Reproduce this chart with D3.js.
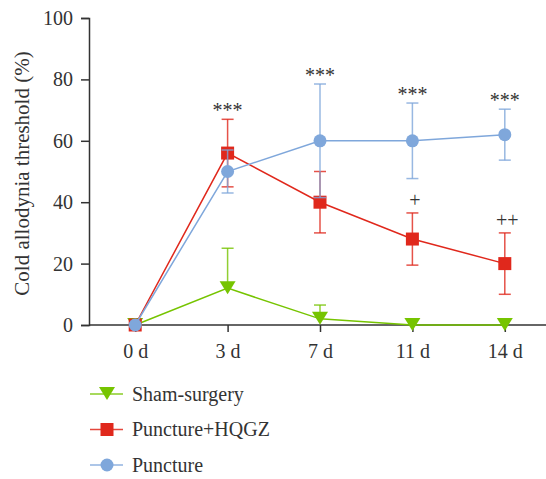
<!DOCTYPE html>
<html>
<head>
<meta charset="utf-8">
<script src="https://cdn.jsdelivr.net/npm/d3@7"></script>
<style>
  body { margin: 0; background: #fff; }
  text { font-family: "Liberation Serif", "DejaVu Serif", serif; fill: #333; }
</style>
</head>
<body>
<div id="chart"></div>
<script>
// Data
const days = ['0 d', '3 d', '7 d', '11 d', '14 d']
const shamMean = [0, 12, 2, 0, 0]
const shamErr = [0, 13, 4.5, 0, 0]
const hqgzMean = [0, 56, 40, 28, 20]
const hqgzErr = [0, 11, 10, 8.5, 10]
const punctureMean = [0, 50, 60, 60, 62]
const punctureErr = [0, 7, 18.5, 12.3, 8.3]
const yTicks = [0, 20, 40, 60, 80, 100]
const starLabels = ['', '***', '***', '***', '***']
const plusLabels = ['', '', '', '+', '++']

const width = 546,
  height = 479,
  fontSize = 20

const svg = d3.select('#chart')
  .append('svg')
  .attr('width', width)
  .attr('height', height)

const x = d3.scalePoint()
  .domain(days)
  .range([89, 551])
  .padding(0.5)

const y = d3.scaleLinear()
  .domain([0, 100])
  .range([325, 18])

const series = [
  { name: 'Sham-surgery', mean: shamMean, err: shamErr, color: '#76c400', shape: 'tri' },
  { name: 'Puncture+HQGZ', mean: hqgzMean, err: hqgzErr, color: '#e0281c', shape: 'sq' },
  { name: 'Puncture', mean: punctureMean, err: punctureErr, color: '#7fa7db', shape: 'circ' }
]

// axes
const yAxis = svg.append('g')
  .attr('transform', 'translate(89,0)')
  .call(d3.axisLeft(y).tickValues(yTicks).tickSize(8).tickPadding(8))
const xAxis = svg.append('g')
  .attr('transform', `translate(0,${y(0)})`)
  .call(d3.axisBottom(x).tickSize(7).tickPadding(12))
;[yAxis, xAxis].forEach(a => {
  a.select('.domain').attr('stroke', '#333').attr('stroke-width', 1.5)
  a.selectAll('.tick line').attr('stroke', '#333').attr('stroke-width', 1.5)
  a.selectAll('.tick text').style('font-size', fontSize + 'px').attr('fill', '#333')
})
xAxis.select('.domain').attr('d', `M89,0H${width}`)

svg.append('text')
  .attr('transform', `translate(29,${y(50) + 2}) rotate(-90)`)
  .attr('text-anchor', 'middle')
  .style('font-size', '21px')
  .text('Cold allodynia threshold (%)')

const marker = (g, shape, color, cx, cy) => {
  if (shape === 'tri') {
    g.append('path')
      .attr('d', `M${cx - 8},${cy - 7}L${cx + 8},${cy - 7}L${cx},${cy + 6}Z`)
      .attr('fill', color)
  } else if (shape === 'sq') {
    g.append('rect')
      .attr('x', cx - 6.5).attr('y', cy - 6.5)
      .attr('width', 13).attr('height', 13)
      .attr('fill', color)
  } else {
    g.append('circle')
      .attr('cx', cx).attr('cy', cy).attr('r', 6.5)
      .attr('fill', color)
  }
}

const line = d3.line()
  .x(d => x(d.day))
  .y(d => y(d.v))

// draw order: sham, hqgz, puncture
series.forEach(s => {
  const g = svg.append('g')
  const pts = days.map((day, i) => ({ day, v: s.mean[i], e: s.err[i] }))
  // error bars
  pts.filter(p => p.e > 0).forEach(p => {
    const cx = x(p.day)
    const up = s.shape === 'tri'
    g.append('line')
      .attr('x1', cx).attr('x2', cx)
      .attr('y1', up ? y(p.v) : y(p.v - p.e)).attr('y2', y(p.v + p.e))
      .attr('stroke', s.color).attr('stroke-width', 1.5).attr('opacity', 0.8)
    const caps = up ? [p.v + p.e] : [p.v + p.e, p.v - p.e]
    caps.forEach(c => {
      g.append('line')
        .attr('x1', cx - 6).attr('x2', cx + 6)
        .attr('y1', y(c)).attr('y2', y(c))
        .attr('stroke', s.color).attr('stroke-width', 1.5).attr('opacity', 0.8)
    })
  })
  g.append('path')
    .datum(pts)
    .attr('d', line)
    .attr('fill', 'none')
    .attr('stroke', s.color)
    .attr('stroke-width', 1.5)
  pts.forEach(p => marker(g, s.shape, s.color, x(p.day), y(p.v)))
})

// significance marks
days.forEach((day, i) => {
  if (starLabels[i]) {
    const top = Math.max(punctureMean[i] + punctureErr[i], hqgzMean[i] + hqgzErr[i])
    svg.append('text')
      .attr('x', x(day)).attr('y', y(top) - 2)
      .attr('text-anchor', 'middle')
      .style('font-size', fontSize + 'px')
      .text(starLabels[i])
  }
  if (plusLabels[i]) {
    svg.append('text')
      .attr('x', x(day) + 2.5).attr('y', y(hqgzMean[i] + hqgzErr[i]) - 6)
      .attr('text-anchor', 'middle')
      .style('font-size', fontSize + 'px')
      .text(plusLabels[i])
  }
})

// legend
const legend = svg.append('g')
series.forEach((s, i) => {
  const ly = 394 + i * 35.5
  legend.append('line')
    .attr('x1', 90).attr('x2', 123)
    .attr('y1', ly).attr('y2', ly)
    .attr('stroke', s.color).attr('stroke-width', 1.5).attr('opacity', 0.85)
  marker(legend, s.shape, s.color, 107, ly)
  legend.append('text')
    .attr('x', 132).attr('y', ly + 6.5)
    .style('font-size', fontSize + 'px')
    .text(s.name)
})
</script>
</body>
</html>
